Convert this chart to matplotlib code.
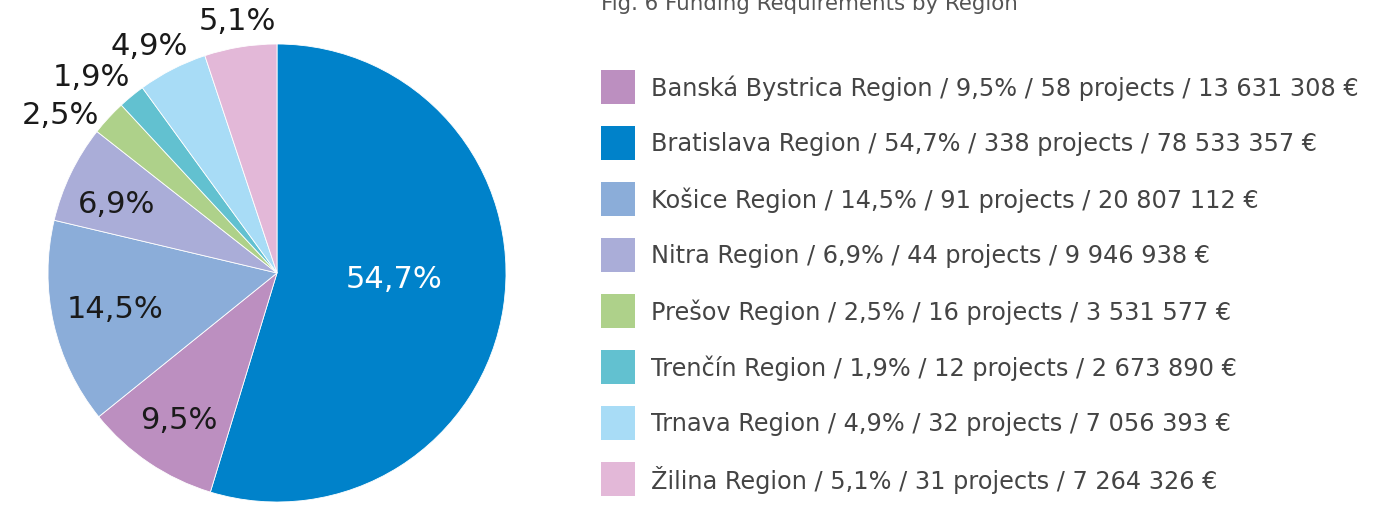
import matplotlib
matplotlib.use("Agg")
import matplotlib.pyplot as plt
from matplotlib.patches import Rectangle
import numpy as np

# ---- data ----
regions = ["Banská Bystrica Region", "Bratislava Region", "Košice Region", "Nitra Region",
           "Prešov Region", "Trenčín Region", "Trnava Region", "Žilina Region"]
shares = [9.5, 54.7, 14.5, 6.9, 2.5, 1.9, 4.9, 5.1]
projects = [58, 338, 91, 44, 16, 12, 32, 31]
amounts = ["13 631 308", "78 533 357", "20 807 112", "9 946 938",
           "3 531 577", "2 673 890", "7 056 393", "7 264 326"]
colors = ["#BC8FC0", "#0082CA", "#8BADD9", "#AAADD8", "#AED18A", "#62C1D0", "#A8DCF6", "#E3B8D8"]
title = "Fig. 6 Funding Requirements by Region"

# pie order (clockwise from top)
pie_order = [1, 0, 2, 3, 4, 5, 6, 7]

# label placement style (radius in pie radii, angle shift in degrees)
label_r = {1: 0.51, 0: 0.76, 2: 0.72, 3: 0.77, 4: 1.18, 5: 1.19, 6: 1.15, 7: 1.13}
label_shift = {1: 7, 0: -0.5, 2: -1.3, 3: 1.5, 4: 6.1, 5: 3.5, 6: 1.8, 7: -0.3}

W, H = 1387, 506
fig = plt.figure(figsize=(W / 100, H / 100), dpi=100)
fig.patch.set_facecolor("white")

cx, cy, R = 277, 274, 229
ax = fig.add_axes([(cx - R) / W, (H - cy - R) / H, 2 * R / W, 2 * R / H])
vals = [shares[i] for i in pie_order]
cols = [colors[i] for i in pie_order]
wedges, _ = ax.pie(vals, colors=cols, startangle=90, counterclock=False,
                   wedgeprops=dict(edgecolor="white", linewidth=0.6))
ax.set_xlim(-1, 1)
ax.set_ylim(-1, 1)
ax.set_aspect("equal")
ax.axis("off")

for w, i in zip(wedges, pie_order):
    th = np.deg2rad((w.theta1 + w.theta2) / 2 + label_shift[i])
    r = label_r[i]
    txt = f"{shares[i]:.1f}%".replace(".", ",")
    ax.text(r * np.cos(th), r * np.sin(th) - 0.012, txt, ha="center", va="center",
            fontsize=22, color="white" if i == 1 else "#1a1a1a", clip_on=False)

# legend / title in pixel coordinates
lax = fig.add_axes([0, 0, 1, 1])
lax.set_xlim(0, W)
lax.set_ylim(H, 0)
lax.axis("off")
lax.text(601, 10, title, fontsize=15.4, color="#555555", ha="left", va="baseline")
for k in range(len(regions)):
    yc = 88 + 56 * k
    lax.add_patch(Rectangle((601, yc - 17), 34, 34, facecolor=colors[k], edgecolor="none"))
    label = f"{regions[k]} / {shares[k]:.1f}% / {projects[k]} projects / {amounts[k]} €".replace(".", ",")
    lax.text(651, yc, label, fontsize=17.3, color="#444444", ha="left", va="center")

fig.savefig("out.png", dpi=100)
